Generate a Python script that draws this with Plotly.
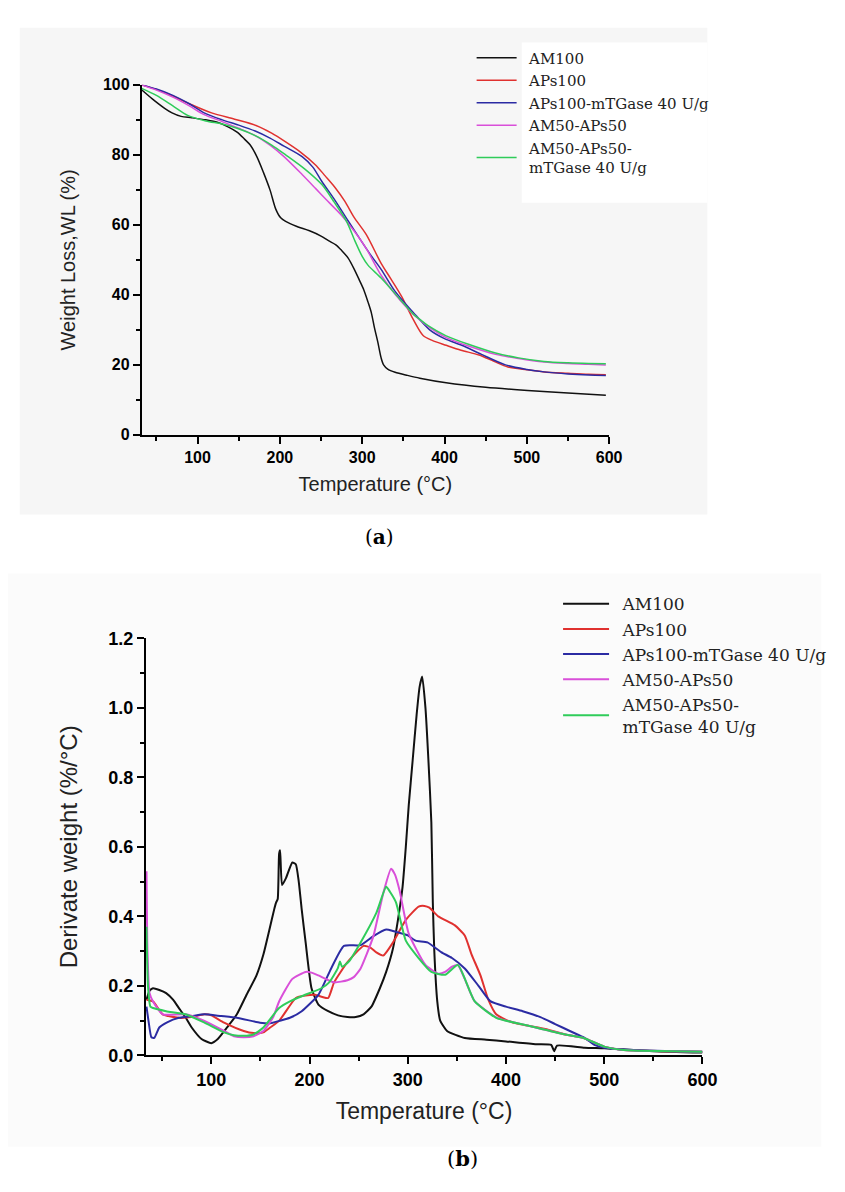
import plotly.graph_objects as go

# ---------------- data: panel (a) TGA ----------------
names = ["AM100", "APs100", "APs100-mTGase 40 U/g", "AM50-APs50", "AM50-APs50-<br>mTGase 40 U/g"]
colors = ["#111111", "#e0312f", "#2b2ba3", "#d94fd9", "#2fcc5a"]

tga_am100_t = [32, 45, 60, 69, 80, 93, 110, 124, 137, 148, 157, 164, 172, 180, 188, 195, 201, 207, 220, 236, 250, 259, 268, 275, 283, 291, 297, 302, 307, 311, 315, 319, 323, 326, 331, 340, 355, 370, 402, 450, 501, 550, 596]
tga_am100_w = [98.6, 96, 93.3, 92, 91, 90.6, 90, 89.3, 88, 86.5, 84.5, 82.8, 79.5, 75, 70, 64.5, 62, 61, 59.6, 58.3, 56.8, 55.5, 54.3, 52.7, 50.5, 47, 44, 41.4, 38, 35, 30.5, 26.5, 22, 20, 18.8, 17.9, 17.0, 16.2, 14.9, 13.6, 12.7, 12, 11.3]

tga_aps100_t = [32, 50, 69, 90, 117, 145, 171, 190, 207, 225, 243, 255, 267, 279, 290, 305, 323, 335, 348, 362, 374, 385, 402, 420, 442, 460, 477, 500, 521, 550, 575, 596]
tga_aps100_w = [100, 98.7, 96.9, 94.6, 92, 90.2, 88.4, 86.2, 83.7, 80.8, 77.2, 74, 70.7, 66.7, 62.2, 57.2, 49, 44.5, 39.5, 33, 28.4, 27, 25.6, 24.2, 22.8, 21, 19.4, 18.6, 18, 17.6, 17.3, 17.2]

tga_apsm_t = [32, 50, 70, 90, 108, 130, 150, 170, 188, 205, 227, 240, 251, 267, 283, 300, 310, 323, 340, 362, 382, 400, 421, 445, 474, 500, 521, 550, 575, 596]
tga_apsm_w = [100, 98.8, 97, 94.6, 92, 90, 88.5, 86.8, 84.8, 82.5, 79.5, 76.5, 72.4, 67, 61.1, 55, 51.5, 47.3, 41, 35, 30, 27.5, 25.6, 23, 20, 18.7, 18, 17.4, 17.1, 17]

tga_mix_t = [32, 50, 70, 90, 108, 130, 150, 170, 188, 205, 227, 243, 258, 275, 290, 305, 323, 340, 362, 380, 402, 430, 462, 490, 521, 550, 575, 596]
tga_mix_w = [100, 98.5, 96.5, 94, 91.5, 89.5, 87.6, 85.5, 82.8, 79.5, 74.4, 70.5, 66.8, 62.7, 58.3, 53.2, 45.6, 40.2, 34.5, 31, 27.8, 25.3, 23, 21.8, 20.8, 20.4, 20.2, 20]

tga_mixm_t = [32, 50, 70, 88, 110, 130, 148, 170, 190, 207, 230, 251, 266, 281, 291, 300, 307, 323, 345, 362, 370, 380, 402, 430, 462, 490, 521, 550, 575, 596]
tga_mixm_w = [99, 97, 94, 91.3, 89.7, 88.8, 87.6, 85.5, 82.8, 80, 76, 71.5, 66.5, 61, 55.5, 51, 48.5, 44.8, 39, 34.5, 33, 31.2, 28.3, 25.8, 23.4, 22, 21, 20.6, 20.4, 20.3]

# ---------------- data: panel (b) DTG ----------------
dtg_am100_t = [34, 37, 40.6, 47, 54, 61, 67, 74, 80, 90, 100, 106.6, 116, 126, 136, 146, 153, 159, 164, 166, 167.6, 169, 170, 172, 176, 182.5, 186, 189, 192, 196, 202, 209, 219, 229, 238.6, 247, 255, 263, 271.6, 278, 284.8, 290, 294.7, 298, 301, 305, 309, 312, 314.7, 318, 321, 324, 325.5, 327, 330, 333, 340, 358, 380, 400, 430, 446, 449, 452, 480, 500, 550, 600]
dtg_am100_v = [0.16, 0.185, 0.193, 0.188, 0.179, 0.16, 0.136, 0.108, 0.08, 0.047, 0.035, 0.047, 0.08, 0.118, 0.175, 0.23, 0.29, 0.36, 0.42, 0.44, 0.45, 0.58, 0.59, 0.49, 0.51, 0.555, 0.55, 0.50, 0.42, 0.325, 0.193, 0.146, 0.127, 0.115, 0.11, 0.11, 0.118, 0.14, 0.193, 0.24, 0.306, 0.39, 0.485, 0.6, 0.72, 0.85, 0.98, 1.06, 1.09, 1.0, 0.85, 0.67, 0.44, 0.3, 0.156, 0.1, 0.07, 0.05, 0.045, 0.04, 0.032, 0.03, 0.012, 0.028, 0.022, 0.02, 0.012, 0.008]

dtg_aps100_t = [34, 40.6, 50.5, 67, 80, 93, 100, 113, 133, 143, 153, 160, 169, 186, 196, 205.6, 213, 219, 225, 238.6, 255, 262, 268, 275, 285, 298, 311, 317, 322, 331, 348, 358, 365, 374, 382, 390, 407, 440, 460, 479, 500, 520, 560, 600]
dtg_aps100_v = [0.16, 0.155, 0.118, 0.108, 0.11, 0.118, 0.115, 0.094, 0.07, 0.064, 0.066, 0.08, 0.099, 0.165, 0.172, 0.174, 0.168, 0.165, 0.21, 0.268, 0.315, 0.31, 0.296, 0.287, 0.325, 0.39, 0.428, 0.43, 0.425, 0.40, 0.374, 0.345, 0.29, 0.23, 0.16, 0.118, 0.094, 0.076, 0.06, 0.05, 0.025, 0.015, 0.012, 0.01]

dtg_apsm_t = [34, 36, 39, 42, 47, 55, 67, 80, 93, 110, 126, 149.5, 160, 169, 180, 192, 209, 222, 235, 252, 265, 278, 285, 291, 300, 308, 320, 334, 345, 358, 372, 384, 400, 417, 435, 450, 465, 480, 490, 500, 530, 600]
dtg_apsm_v = [0.14, 0.1, 0.052, 0.05, 0.08, 0.095, 0.108, 0.113, 0.118, 0.113, 0.108, 0.094, 0.092, 0.099, 0.108, 0.127, 0.174, 0.25, 0.315, 0.317, 0.343, 0.362, 0.358, 0.353, 0.345, 0.33, 0.325, 0.297, 0.28, 0.25, 0.2, 0.156, 0.14, 0.127, 0.11, 0.09, 0.07, 0.05, 0.03, 0.022, 0.015, 0.01]

dtg_mix_t = [34, 35, 37, 40.6, 50.5, 73.6, 93, 113, 123, 133, 143, 153, 163, 169, 182.5, 196, 202, 209, 225, 238.6, 245, 252, 258, 265, 275, 283, 287, 291.6, 301, 318, 331, 338, 345, 351, 358, 368, 391, 423, 457, 479, 500, 520, 600]
dtg_mix_v = [0.53, 0.3, 0.18, 0.155, 0.118, 0.118, 0.099, 0.07, 0.055, 0.052, 0.055, 0.07, 0.11, 0.155, 0.22, 0.24, 0.238, 0.23, 0.21, 0.216, 0.225, 0.25, 0.29, 0.343, 0.466, 0.537, 0.52, 0.475, 0.35, 0.26, 0.235, 0.24, 0.255, 0.26, 0.22, 0.156, 0.108, 0.085, 0.062, 0.05, 0.025, 0.015, 0.01]

dtg_mixm_t = [34, 35.5, 38, 40.6, 54, 73.6, 93, 113, 123, 133, 143, 153, 169, 180, 192, 212, 220, 228.7, 231, 233, 240, 252, 268, 278, 282, 288, 298, 311, 324, 338, 351, 368, 390, 423, 457, 479, 500, 520, 600]
dtg_mixm_v = [0.37, 0.2, 0.14, 0.136, 0.127, 0.118, 0.094, 0.066, 0.058, 0.056, 0.06, 0.08, 0.136, 0.155, 0.17, 0.193, 0.21, 0.25, 0.27, 0.255, 0.27, 0.325, 0.41, 0.485, 0.47, 0.44, 0.33, 0.28, 0.24, 0.232, 0.26, 0.156, 0.108, 0.085, 0.062, 0.05, 0.025, 0.015, 0.01]

tga_t = [tga_am100_t, tga_aps100_t, tga_apsm_t, tga_mix_t, tga_mixm_t]
tga_w = [tga_am100_w, tga_aps100_w, tga_apsm_w, tga_mix_w, tga_mixm_w]
dtg_t = [dtg_am100_t, dtg_aps100_t, dtg_apsm_t, dtg_mix_t, dtg_mixm_t]
dtg_v = [dtg_am100_v, dtg_aps100_v, dtg_apsm_v, dtg_mix_v, dtg_mixm_v]

W, H = 845, 1192


def px(x):
    return x / W


def py(y):
    return 1 - y / H


def pad_name(n, pad):
    # extra gap between legend line and text (non-collapsing space)
    return "<br>".join(pad + part for part in n.split("<br>"))


fig = go.Figure()

for i in range(5):
    fig.add_trace(go.Scatter(x=tga_t[i], y=tga_w[i], mode="lines", name=pad_name(names[i], "\u2002"),
                             line=dict(color=colors[i], width=1.5, shape="spline", smoothing=0.8),
                             xaxis="x", yaxis="y", legend="legend"))
for i in range(5):
    fig.add_trace(go.Scatter(x=dtg_t[i], y=dtg_v[i], mode="lines", name=pad_name(names[i], "\u2002"),
                             line=dict(color=colors[i], width=2, shape="spline", smoothing=0.5),
                             xaxis="x2", yaxis="y2", legend="legend2"))

tickfont_a = dict(family="Liberation Sans", size=16, color="black", weight="bold")
tickfont_b = dict(family="Liberation Sans", size=18, color="black", weight="bold")
axis_common = dict(showline=True, linecolor="black", linewidth=1.5, ticks="outside",
                   ticklen=7, tickwidth=1.5, tickcolor="black", showgrid=False, zeroline=False,
                   mirror=False)
minor_x = dict(ticks="outside", ticklen=4, tickwidth=1.5, tickcolor="black", dtick=50, tick0=0)

fig.update_layout(
    width=W, height=H, margin=dict(l=0, r=0, t=0, b=0),
    paper_bgcolor="white", plot_bgcolor="rgba(0,0,0,0)",
    xaxis=dict(domain=[px(136), px(612)], range=[32, 600], anchor="y",
               tickvals=[100, 200, 300, 400, 500, 600], tickfont=tickfont_a, minor=minor_x,
               title=dict(text="Temperature (°C)", font=dict(family="Liberation Sans", size=20, color="#222"), standoff=12),
               **axis_common),
    yaxis=dict(domain=[py(424), py(68)], range=[0, 100], anchor="x",
               tickvals=[0, 20, 40, 60, 80, 100], tickfont=tickfont_a,
               minor=dict(ticks="outside", ticklen=4, tickwidth=1.5, tickcolor="black", dtick=10, tick0=0),
               title=dict(text="Weight Loss,WL (%)", font=dict(family="Liberation Sans", size=20, color="#222"), standoff=22),
               **axis_common),
    xaxis2=dict(domain=[px(140), px(707)], range=[33, 600], anchor="y2",
                tickvals=[100, 200, 300, 400, 500, 600], tickfont=tickfont_b, minor=minor_x,
                title=dict(text="Temperature (°C)", font=dict(family="Liberation Sans", size=23, color="#222"), standoff=14),
                **axis_common),
    yaxis2=dict(domain=[py(1055), py(631)], range=[0, 1.2], anchor="x2",
                tickvals=[0, 0.2, 0.4, 0.6, 0.8, 1.0, 1.2], ticktext=["0.0", "0.2", "0.4", "0.6", "0.8", "1.0", "1.2"],
                tickfont=tickfont_b,
                minor=dict(ticks="outside", ticklen=4, tickwidth=1.5, tickcolor="black", dtick=0.1, tick0=0),
                title=dict(text="Derivate weight (%/°C)", font=dict(family="Liberation Sans", size=24, color="#222"), standoff=24),
                **axis_common),
    legend=dict(x=px(472), y=py(24), xanchor="left", yanchor="top", bgcolor="rgba(0,0,0,0)",
                font=dict(family="DejaVu Serif", size=15, color="#222"), itemwidth=40,
                tracegroupgap=0),
    legend2=dict(x=px(560), y=py(578), xanchor="left", yanchor="top", bgcolor="rgba(0,0,0,0)",
                 font=dict(family="DejaVu Serif", size=17, color="#222"), itemwidth=46,
                 tracegroupgap=0),
    shapes=[
        dict(type="rect", xref="paper", yref="paper", x0=px(12), x1=px(712), y0=py(505), y1=py(10),
             fillcolor="#f6f6f6", line=dict(width=0), layer="below"),
        dict(type="rect", xref="paper", yref="paper", x0=px(523), x1=px(712), y0=py(188), y1=py(25),
             fillcolor="#ffffff", line=dict(width=0), layer="below"),
        dict(type="rect", xref="paper", yref="paper", x0=px(0), x1=px(828), y0=py(1148), y1=py(565),
             fillcolor="#fbfbfb", line=dict(width=0), layer="below"),
    ],
    annotations=[
        dict(text="(<b>a</b>)", x=px(378), y=py(528), xref="paper", yref="paper", showarrow=False,
             font=dict(family="DejaVu Serif", size=20, color="black")),
        dict(text="(<b>b</b>)", x=px(463), y=py(1175), xref="paper", yref="paper", showarrow=False,
             font=dict(family="DejaVu Serif", size=21, color="black")),
    ],
    showlegend=True,
)

fig.write_html("out.html")
